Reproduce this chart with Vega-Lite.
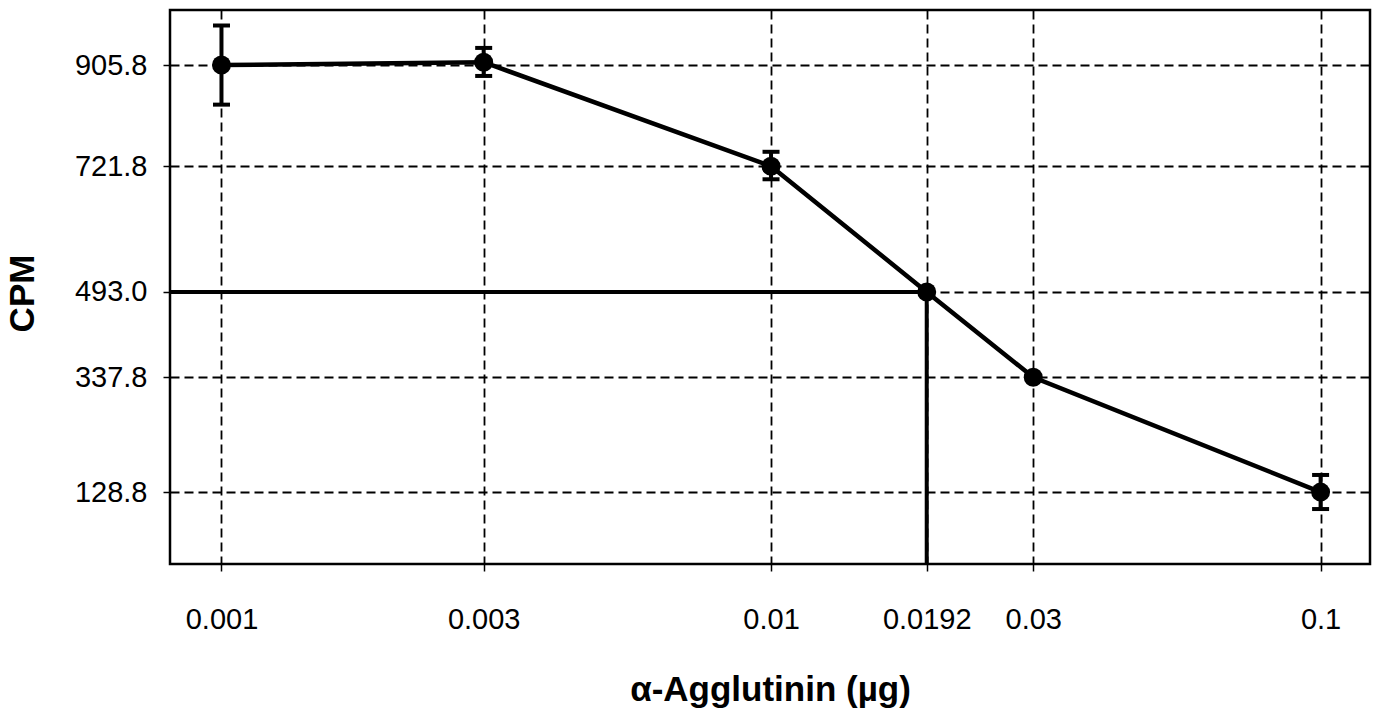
{
  "$schema": "https://vega.github.io/schema/vega-lite/v6.json",
  "width": 1200,
  "height": 554,
  "autosize": "none",
  "padding": {"left": 170, "top": 10, "right": 6, "bottom": 148},
  "background": "white",
  "config": {
    "view": {"stroke": "black", "strokeWidth": 2.5},
    "font": "Liberation Sans"
  },
  "datasets": {
    "points": [
      {"dose": 0.001, "cpm": 905.8, "lo": 833.8, "hi": 977.8},
      {"dose": 0.003, "cpm": 911.0, "lo": 886.0, "hi": 937.0},
      {"dose": 0.01, "cpm": 721.8, "lo": 698.0, "hi": 748.0},
      {"dose": 0.0192, "cpm": 493.0},
      {"dose": 0.03, "cpm": 337.8},
      {"dose": 0.1, "cpm": 128.8, "lo": 98.0, "hi": 160.0}
    ],
    "refs": [
      {"dose": 0.000806, "dose2": 0.0192, "cpm": 493.0, "cpm2": 493.0},
      {"dose": 0.0192, "dose2": 0.0192, "cpm": 493.0, "cpm2": -2}
    ]
  },
  "layer": [
    {
      "data": {"name": "points"},
      "mark": {"type": "line", "color": "black", "strokeWidth": 4.5},
      "encoding": {
        "x": {
          "field": "dose",
          "type": "quantitative",
          "title": "α-Agglutinin (µg)",
          "scale": {"type": "log", "domain": [0.000806, 0.123], "nice": false, "zero": false},
          "axis": {
            "values": [0.001, 0.003, 0.01, 0.0192, 0.03, 0.1],
            "format": "~g",
            "grid": true,
            "gridColor": "black",
            "gridDash": [9, 5],
            "gridWidth": 1.8,
            "gridOpacity": 1,
            "domain": false,
            "ticks": true,
            "tickColor": "black",
            "tickSize": 7,
            "tickWidth": 1.5,
            "labelFont": "Liberation Sans",
            "labelFontSize": 29,
            "labelColor": "black",
            "labelPadding": 34,
            "labelOverlap": false,
            "labelFlush": false,
            "titleFont": "Liberation Sans",
            "titleFontSize": 35,
            "titleFontWeight": "bold",
            "titleColor": "black",
            "titleX": 600,
            "titleY": 136,
            "titleAlign": "center",
            "titleBaseline": "alphabetic"
          }
        },
        "y": {
          "field": "cpm",
          "type": "quantitative",
          "title": "CPM",
          "scale": {"domain": [-2, 1006], "nice": false, "zero": false},
          "axis": {
            "values": [128.8, 337.8, 493.0, 721.8, 905.8],
            "format": ".1f",
            "grid": true,
            "gridColor": "black",
            "gridDash": [9, 5],
            "gridWidth": 1.8,
            "gridOpacity": 1,
            "domain": false,
            "ticks": true,
            "tickColor": "black",
            "tickSize": 7,
            "tickWidth": 1.5,
            "labelFont": "Liberation Sans",
            "labelFontSize": 29,
            "labelColor": "black",
            "labelPadding": 16,
            "titleFont": "Liberation Sans",
            "titleFontSize": 35,
            "titleFontWeight": "bold",
            "titleColor": "black",
            "titleAngle": -90,
            "titleX": -137,
            "titleY": 283,
            "titleAlign": "center",
            "titleBaseline": "alphabetic"
          }
        }
      }
    },
    {
      "data": {"name": "refs"},
      "mark": {"type": "rule", "color": "black", "strokeWidth": 4},
      "encoding": {
        "x": {"field": "dose", "type": "quantitative", "title": "α-Agglutinin (µg)"},
        "x2": {"field": "dose2"},
        "y": {"field": "cpm", "type": "quantitative", "title": "CPM"},
        "y2": {"field": "cpm2"}
      }
    },
    {
      "data": {"name": "points"},
      "transform": [{"filter": "isValid(datum.lo)"}],
      "mark": {
        "type": "errorbar",
        "color": "black",
        "opacity": 1,
        "thickness": 4,
        "rule": {"color": "black", "opacity": 1, "strokeWidth": 4},
        "ticks": {"size": 17, "thickness": 4, "color": "black", "opacity": 1}
      },
      "encoding": {
        "x": {"field": "dose", "type": "quantitative", "title": "α-Agglutinin (µg)"},
        "y": {"field": "lo", "type": "quantitative", "title": "CPM"},
        "y2": {"field": "hi"}
      }
    },
    {
      "data": {"name": "points"},
      "mark": {"type": "circle", "size": 360, "color": "black", "opacity": 1},
      "encoding": {
        "x": {"field": "dose", "type": "quantitative", "title": "α-Agglutinin (µg)"},
        "y": {"field": "cpm", "type": "quantitative", "title": "CPM"}
      }
    }
  ]
}
